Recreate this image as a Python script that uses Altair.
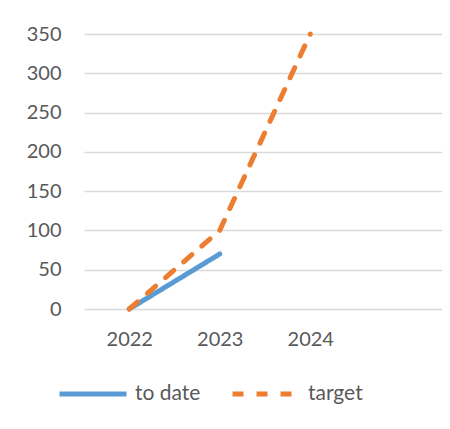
import altair as alt
import pandas as pd

years = [2022, 2023, 2024]
to_date = [0, 70, None]
target = [0, 100, 350]
series_names = ["to date", "target"]
series_colors = ["#5B9BD5", "#ED7D31"]
x_ticks = [2022, 2023, 2024]
y_ticks = [0, 50, 100, 150, 200, 250, 300, 350]

rows = []
for y, v in zip(years, to_date):
    if v is not None:
        rows.append({"year": y, "value": v, "series": "to date"})
for y, v in zip(years, target):
    if v is not None:
        rows.append({"year": y, "value": v, "series": "target"})
df = pd.DataFrame(rows)

FONT = "Lato"
TXT = "#595959"

legend = alt.Legend(title=None, orient="none", direction="horizontal",
                    legendX=-27, legendY=324, symbolType="stroke",
                    symbolSize=4489, symbolStrokeWidth=5, labelFontSize=21,
                    labelFont=FONT, labelColor=TXT, labelOffset=6,
                    columnPadding=21)

x_enc = alt.X(
    "year:Q",
    scale=alt.Scale(domain=[2021.5, 2025.456], nice=False, zero=False),
    axis=alt.Axis(values=x_ticks, format="d", title=None, grid=False, domain=False,
                  ticks=False, labelPadding=20, labelFontSize=20, labelColor=TXT,
                  labelFont=FONT),
)
y_enc = alt.Y(
    "value:Q",
    scale=alt.Scale(domain=[0, 350], nice=False),
    axis=alt.Axis(values=y_ticks, title=None, grid=True, gridColor="#D9D9D9",
                  gridWidth=1.5, domain=False, ticks=False, labelPadding=23,
                  labelFontSize=20, labelColor=TXT, labelFont=FONT),
)
color_enc = alt.Color(
    "series:N",
    scale=alt.Scale(domain=series_names, range=series_colors),
    legend=legend,
)
dash_enc = alt.StrokeDash(
    "series:N",
    scale=alt.Scale(domain=series_names, range=[[1, 0], [11, 13]]),
    legend=legend,
)

base = alt.Chart(df).mark_line(strokeWidth=5, strokeCap="round").encode(
    x=x_enc, y=y_enc, color=color_enc, strokeDash=dash_enc
)

chart = alt.layer(
    base.transform_filter(alt.datum.series == "to date"),
    base.transform_filter(alt.datum.series == "target"),
).properties(
    width=358, height=275,
    autosize=alt.AutoSizeParams(type="none"),
    padding={"left": 76, "top": 26, "right": 0, "bottom": 100},
    background="white",
).configure_view(stroke=None)

chart.save("out.html", embed_options={"renderer": "svg", "actions": False})
